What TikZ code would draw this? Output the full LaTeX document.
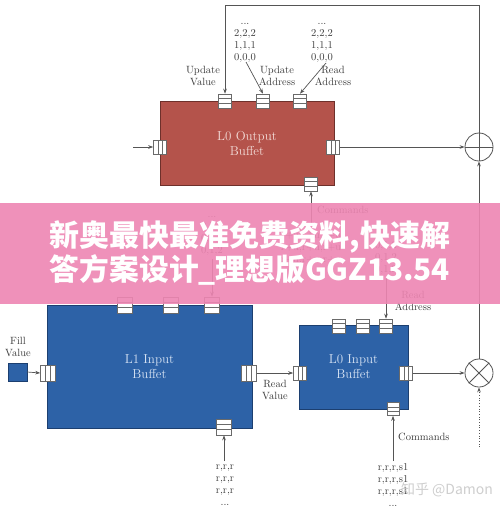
\documentclass[tikz,border=0pt]{standalone}
\usepackage{fontspec}
\usepackage{graphicx}
\newfontfamily\cjk{Noto Sans CJK SC}
\usetikzlibrary{arrows.meta,calc}
\definecolor{redbox}{HTML}{B4534B}
\definecolor{rededge}{HTML}{6E302B}
\definecolor{bluebox}{HTML}{2D62A7}
\definecolor{blueedge}{HTML}{1C3F70}
\definecolor{linec}{HTML}{555555}
\definecolor{txt}{HTML}{3C3C3C}
\definecolor{portc}{HTML}{6A6A6A}
\definecolor{bannerc}{HTML}{EE86B3}
\definecolor{redtxt}{HTML}{F3DCD8}
\definecolor{bluetxt}{HTML}{D8E4F4}
\tikzset{
  conn/.style={draw=linec, line width=0.7pt, -{Stealth[length=5pt,width=3.6pt]}},
  lbl/.style={text=txt, font=\fontsize{10.5}{12}\selectfont, align=center, inner sep=0pt},
  redbuf/.style={draw=rededge, fill=redbox, line width=0.6pt, inner sep=0pt,
    text=redtxt, font=\fontsize{13}{15}\selectfont, align=center},
  bluebuf/.style={draw=blueedge, fill=bluebox, line width=0.6pt, inner sep=0pt,
    text=bluetxt, font=\fontsize{13}{15}\selectfont, align=center},
  hport/.style={draw=portc, fill=white, line width=0.6pt, inner sep=0pt,
    path picture={\draw[portc, line width=0.5pt]
      ($(path picture bounding box.north west)!0.333!(path picture bounding box.south west)$) --
      ($(path picture bounding box.north east)!0.333!(path picture bounding box.south east)$)
      ($(path picture bounding box.north west)!0.667!(path picture bounding box.south west)$) --
      ($(path picture bounding box.north east)!0.667!(path picture bounding box.south east)$);}},
  vport/.style={draw=portc, fill=white, line width=0.6pt, inner sep=0pt,
    path picture={\draw[portc, line width=0.5pt]
      ($(path picture bounding box.north west)!0.333!(path picture bounding box.north east)$) --
      ($(path picture bounding box.south west)!0.333!(path picture bounding box.south east)$)
      ($(path picture bounding box.north west)!0.667!(path picture bounding box.north east)$) --
      ($(path picture bounding box.south west)!0.667!(path picture bounding box.south east)$);}},
  opsize/.style={minimum width=13pt, minimum height=14pt},
  ipsize/.style={minimum width=15pt, minimum height=16pt},
  op/.style={draw=linec, line width=0.8pt, circle, minimum size=28pt, inner sep=0pt},
}
\begin{document}
\begin{tikzpicture}[x=1pt,y=-1pt]
\useasboundingbox (0,0) rectangle (500,508);
\fill[white] (0,0) rectangle (500,508);

% ---------- L0 Output Buffet ----------
\node[redbuf, minimum width=174pt, minimum height=84pt] (ob) at (247,143) {L0 Output\\Buffet};
\node[hport, opsize] (op1) at (225,101) {};
\node[hport, opsize] (op2) at (263,101) {};
\node[hport, opsize] (op3) at (300,101) {};
\node[vport, opsize] (oleft) at (160,147) {};
\node[vport, opsize] (oright) at (333,147) {};
\node[hport, opsize] (obot) at (311,184) {};

% ---------- L1 Input Buffet ----------
\node[bluebuf, minimum width=205pt, minimum height=123pt] (l1) at (149.5,366.5) {L1 Input\\Buffet};
\node[hport, ipsize] (l1p1) at (125,305) {};
\node[hport, ipsize] (l1p2) at (171,305) {};
\node[hport, ipsize] (l1p3) at (212,305) {};
\node[vport, ipsize] (l1left) at (48,373) {};
\node[vport, ipsize] (l1right) at (249,373) {};
\node[hport, ipsize] (l1bot) at (224,427) {};

% ---------- L0 Input Buffet ----------
\node[bluebuf, minimum width=109pt, minimum height=84pt] (ib) at (353.5,367) {L0 Input\\Buffet};
\node[hport, opsize] (ip1) at (339,326) {};
\node[hport, opsize] (ip2) at (363,326) {};
\node[hport, opsize] (ip3) at (386,326) {};
\node[vport, opsize] (ileft) at (300,373) {};
\node[vport, opsize] (iright) at (406,373) {};
\node[hport, minimum width=12pt, minimum height=13pt] (ibot) at (393,409) {};

% ---------- Fill value ----------
\node[draw=blueedge, fill=bluebox, minimum width=19pt, minimum height=18pt, inner sep=0pt] (fill) at (17.5,372) {};
\node[lbl] (filllbl) at (18,347) {Fill\\Value};

% ---------- operators ----------
\node[op] (plus) at (479,147) {};
\draw[linec, line width=0.8pt] (plus.north) -- (plus.south) (plus.west) -- (plus.east);
\node[op] (cross) at (479,373) {};
\draw[linec, line width=0.8pt] (cross.north west) -- (cross.south east) (cross.north east) -- (cross.south west);

% ---------- labels ----------
\node[lbl] (ulist) at (245,43) {...\\2,2,2\\1,1,1\\0,0,0};
\node[lbl] (rlist) at (322,43) {...\\2,2,2\\1,1,1\\0,0,0};
\node[lbl] (uvlbl) at (203,76) {Update\\Value};
\node[lbl] (ualbl) at (277,76) {Update\\Address};
\node[lbl] (ralbl) at (333,76) {Read\\Address};
\node[lbl, anchor=west] (cmd1) at (317,210) {Commands};
\node[lbl] (l1list) at (212,236) {...\\0,1,2\\0,1,2\\0,1,2};
\node[lbl] (clist) at (311,253) {r+u,r+u,r+u\\r+u,r+u,r+u\\r+u,r+u,r+u\\...};
\node[lbl] (i0list) at (386,255) {...\\0,1,2\\0,1,2\\0,1,2};
\node[lbl] (ra2lbl) at (413,301) {Read\\Address};
\node[lbl] (rvlbl) at (275,390) {Read\\Value};
\node[lbl, anchor=west] (cmd2) at (398,437) {Commands};
\node[lbl] (rrlist) at (225,485) {r,r,r\\r,r,r\\r,r,r\\...};
\node[lbl] (rslist) at (393,485) {r,r,r,s1\\r,r,r,s1\\r,r,r,s1\\...};

% ---------- connectors ----------
\coordinate (tl) at (225,5);
\draw[conn] (plus.north) |- (tl) -- (op1.north);
\coordinate (ua0) at (246,62);
\draw[conn] (ua0) -- (op2.north);
\coordinate (ra0) at (326,63);
\draw[conn] (ra0) -- (op3.north);
\coordinate (ol) at (133,147);
\draw[conn] (ol) -- (oleft.west);
\draw[conn] (oright.east) -- (plus.west);
\coordinate (oc0) at (311,226);
\draw[conn] (oc0) -- (obot.south);
\coordinate (l1c0) at (212,259);
\draw[conn] (l1c0) -- (l1p3.north);
\coordinate (i0c0) at (386,278);
\draw[conn] (i0c0) -- (ip3.north);
\draw[conn] (fill.east) -- (l1left.west);
\draw[conn] (l1right.east) -- (ileft.west);
\draw[conn] (iright.east) -- (cross.west);
\draw[conn] (cross.north) -- (plus.south);
\coordinate (d0) at (479,447);
\draw[conn, dotted] (d0) -- (cross.south);
\coordinate (b1) at (224,461);
\draw[conn] (b1) -- (l1bot.south);
\coordinate (b2) at (393,461);
\draw[conn] (b2) -- (ibot.south);

% ---------- banner overlay ----------
\fill[bannerc, opacity=0.9] (0,203) rectangle (500,304);
\node[text=white, inner sep=0pt] (ban1) at (250,237) {\resizebox{400pt}{!}{\cjk\bfseries 新奥最快最准免费资料,快速解}};
\node[text=white, inner sep=0pt] (ban2) at (250,270) {\resizebox{400pt}{!}{\cjk\bfseries 答方案设计\_理想版GGZ13.54}};

% ---------- watermark ----------
\node[text=gray!45, opacity=0.85, inner sep=0pt, font=\fontsize{14}{16}\selectfont] (wm) at (447,490) {\cjk 知乎 @Damon};
\end{tikzpicture}
\end{document}
